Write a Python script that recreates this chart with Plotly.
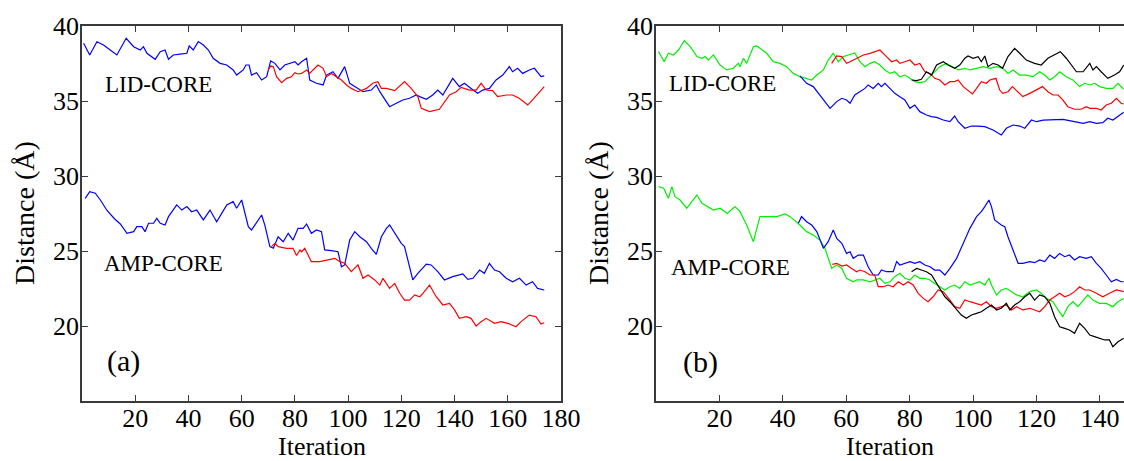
import plotly.graph_objects as go

# ---------------- data ----------------
# Panel (a): LID-CORE
a_lid_blue_x = [0.6, 2.9, 5.6, 8.1, 10.6, 13.1, 16.6, 19.4, 21.9, 23.1, 24.4, 27.5, 29.4, 31.2, 32.5, 34.3, 36.9, 39.4, 40.3, 41.8, 43.7, 45.6, 47.5, 49.3, 51.9, 54.4, 56.8, 58.1, 60.6, 61.6, 62.8, 63.7, 65.6, 67.5, 69.4, 70.3, 70.9, 72.5, 74.4, 76.2, 78.1, 80.0, 81.2, 82.5, 84.4, 85.6, 88.1, 90.6, 91.9, 94.3, 96.2, 98.1, 98.7, 100.6, 102.5, 105.6, 108.7, 110.6, 111.9, 115.6, 118.1, 120.6, 123.1, 125.6, 126.9, 129.4, 131.8, 133.7, 135.6, 137.5, 139.3, 141.8, 143.7, 146.2, 148.7, 150.6, 153.1, 155.6, 158.1, 160.6, 161.8, 163.7, 165.6, 168.1, 170.0, 172.5, 173.7]
a_lid_blue_y = [38.85, 38.07, 38.95, 38.73, 38.4, 38.07, 39.18, 38.62, 38.4, 38.62, 38.18, 37.78, 38.29, 38.4, 37.78, 38.07, 38.13, 38.18, 38.67, 38.4, 38.96, 38.73, 38.4, 37.85, 37.51, 37.4, 37.07, 36.73, 37.07, 37.4, 37.4, 36.73, 36.89, 36.4, 36.62, 37.4, 37.67, 37.51, 37.07, 37.4, 37.51, 37.62, 37.4, 37.62, 37.85, 36.4, 36.18, 36.07, 36.73, 36.95, 36.51, 37.18, 37.29, 36.18, 35.96, 35.62, 35.73, 36.07, 35.62, 34.62, 34.85, 35.07, 35.18, 35.4, 35.29, 35.11, 35.4, 35.73, 35.4, 35.96, 36.51, 35.96, 36.18, 35.84, 35.51, 35.73, 35.84, 36.4, 36.73, 37.29, 36.95, 37.18, 36.84, 37.07, 37.18, 36.62, 36.67]
a_lid_red_x = [70.0, 70.9, 71.9, 73.1, 75.0, 76.9, 78.7, 80.0, 81.2, 82.5, 84.4, 85.6, 86.8, 88.7, 90.6, 91.9, 93.7, 95.6, 97.5, 99.4, 101.2, 103.7, 106.9, 109.3, 111.2, 112.5, 114.4, 117.5, 121.2, 123.7, 126.2, 127.5, 130.6, 134.3, 136.2, 138.1, 140.6, 142.5, 145.6, 148.1, 150.0, 151.9, 154.3, 156.2, 159.4, 161.8, 164.3, 167.5, 169.3, 171.8, 173.7]
a_lid_red_y = [37.07, 37.33, 37.29, 36.62, 36.22, 36.51, 36.62, 36.89, 36.8, 36.84, 37.07, 36.84, 37.07, 37.4, 37.18, 36.62, 36.84, 36.62, 36.4, 36.07, 35.84, 35.62, 35.84, 36.18, 36.29, 35.84, 35.84, 35.69, 36.29, 35.84, 35.29, 34.51, 34.29, 34.45, 34.96, 35.4, 35.62, 35.91, 35.73, 35.73, 36.18, 35.73, 35.69, 35.29, 35.4, 35.4, 35.18, 34.73, 35.07, 35.62, 35.96]
# Panel (a): AMP-CORE
a_amp_blue_x = [1.2, 2.9, 5.0, 6.9, 9.4, 12.2, 14.4, 16.9, 19.4, 20.6, 22.5, 23.7, 25.0, 26.9, 28.1, 29.4, 31.2, 32.5, 35.6, 37.5, 39.4, 41.2, 43.1, 45.6, 48.1, 50.6, 52.5, 54.4, 56.8, 58.1, 60.0, 62.5, 63.7, 67.5, 68.7, 70.6, 71.9, 73.7, 75.6, 77.5, 79.3, 81.2, 83.1, 84.4, 86.2, 88.1, 90.0, 91.2, 93.7, 96.2, 97.5, 98.7, 100.6, 102.5, 104.4, 106.9, 108.7, 110.6, 112.5, 114.4, 115.6, 117.5, 120.0, 121.2, 123.1, 124.3, 126.2, 129.4, 131.2, 133.7, 136.2, 139.3, 143.1, 145.0, 146.9, 149.4, 151.2, 153.1, 155.0, 156.9, 159.4, 161.8, 164.4, 166.9, 169.3, 171.2, 173.7]
a_amp_blue_y = [28.51, 28.96, 28.85, 28.4, 27.7, 27.15, 26.8, 26.18, 26.29, 26.62, 26.62, 26.29, 26.85, 26.85, 27.18, 26.85, 26.73, 27.29, 28.07, 27.73, 27.96, 27.62, 27.73, 27.07, 27.73, 26.95, 27.51, 28.07, 28.29, 27.85, 28.4, 26.62, 26.4, 27.4, 26.73, 25.29, 25.18, 25.95, 25.62, 26.18, 25.73, 26.51, 26.51, 26.8, 26.18, 26.4, 26.29, 25.07, 25.02, 24.95, 23.95, 24.07, 25.73, 26.29, 25.95, 25.62, 25.18, 24.78, 25.95, 26.51, 26.73, 26.18, 25.51, 25.29, 23.95, 23.07, 23.51, 24.13, 24.07, 23.62, 23.07, 23.29, 23.47, 23.11, 23.18, 23.73, 23.51, 24.18, 23.73, 23.62, 23.18, 22.95, 23.18, 22.73, 22.95, 22.51, 22.4]
a_amp_red_x = [71.2, 72.5, 73.7, 76.9, 79.3, 80.6, 81.9, 82.5, 83.7, 86.2, 89.3, 91.9, 95.0, 96.9, 98.7, 101.2, 103.7, 105.6, 107.5, 110.0, 111.9, 113.1, 115.6, 117.5, 119.4, 121.2, 123.1, 125.0, 126.9, 128.1, 130.6, 133.1, 135.6, 138.1, 140.0, 141.8, 144.4, 146.2, 148.1, 150.0, 151.9, 155.0, 157.5, 160.0, 163.1, 165.0, 168.1, 170.6, 172.5, 173.7]
a_amp_red_y = [25.29, 25.51, 25.29, 25.18, 25.18, 24.7, 25.07, 24.95, 25.18, 24.29, 24.29, 24.4, 24.51, 24.29, 24.18, 23.62, 24.07, 23.18, 23.4, 23.07, 22.73, 23.18, 22.51, 22.84, 22.18, 21.73, 21.73, 22.07, 21.95, 22.18, 22.73, 21.95, 21.4, 21.51, 21.07, 20.51, 20.62, 20.51, 20.0, 20.29, 20.51, 20.18, 20.29, 20.18, 19.95, 20.29, 20.73, 20.62, 20.13, 20.22]

# Panel (b): LID-CORE
b_lid_green_x = [0.8, 2.6, 3.9, 5.5, 7.1, 8.9, 10.8, 12.9, 14.5, 15.5, 16.5, 18.1, 20.2, 22.3, 24.4, 26.0, 26.5, 27.6, 28.6, 30.7, 31.8, 33.4, 34.9, 37.0, 39.1, 41.2, 43.3, 45.4, 47.5, 49.1, 50.7, 52.8, 54.3, 55.9, 57.5, 59.1, 60.6, 62.7, 64.3, 65.9, 67.5, 69.0, 70.6, 72.2, 73.8, 75.3, 76.9, 78.5, 80.1, 81.6, 83.2, 84.8, 86.4, 87.9, 89.5, 91.6, 93.7, 95.3, 97.4, 99.0, 101.1, 103.1, 105.3, 107.4, 109.4, 111.0, 112.6, 114.7, 116.8, 118.9, 121.0, 122.6, 124.2, 125.7, 127.3, 129.4, 131.5, 133.6, 135.2, 136.8, 138.3, 139.9, 142.0, 144.1, 145.7, 146.7, 147.5]
b_lid_green_y = [38.29, 37.62, 38.18, 38.07, 38.4, 39.02, 38.62, 37.96, 37.85, 37.96, 37.73, 38.07, 37.4, 37.07, 37.18, 37.51, 37.29, 37.85, 37.51, 38.62, 38.67, 38.4, 38.18, 37.62, 37.51, 37.29, 36.84, 36.62, 36.51, 36.4, 36.73, 37.07, 37.73, 38.18, 37.62, 37.96, 38.07, 38.2, 37.62, 37.29, 37.51, 37.62, 37.4, 37.07, 36.84, 36.95, 36.62, 36.73, 36.51, 36.29, 36.22, 36.29, 36.62, 36.95, 37.29, 37.51, 37.29, 37.07, 37.18, 37.07, 37.18, 37.29, 37.18, 37.29, 37.18, 36.84, 37.07, 36.73, 36.73, 36.62, 36.95, 36.73, 36.4, 36.62, 36.95, 36.62, 36.4, 35.96, 36.18, 36.07, 36.18, 35.96, 35.84, 35.84, 36.18, 35.96, 35.78]
b_lid_blue_x = [45.4, 47.5, 49.6, 51.7, 54.9, 57.0, 58.6, 60.1, 61.2, 62.7, 64.3, 65.9, 66.9, 68.5, 70.1, 71.1, 72.2, 73.8, 75.3, 76.9, 78.5, 80.1, 81.6, 83.2, 85.3, 86.9, 88.5, 90.6, 92.7, 94.2, 95.3, 97.4, 99.5, 101.6, 103.7, 106.3, 108.9, 110.5, 112.6, 114.7, 116.3, 118.4, 120.0, 122.1, 124.2, 126.3, 128.3, 130.4, 132.6, 134.7, 136.8, 138.9, 140.9, 142.5, 144.1, 145.7, 147.5]
b_lid_blue_y = [36.67, 36.18, 35.96, 35.4, 34.51, 34.96, 35.18, 35.07, 34.85, 35.4, 35.62, 35.84, 36.07, 35.84, 36.18, 35.96, 36.18, 35.84, 35.51, 35.29, 35.07, 34.51, 34.73, 34.29, 34.07, 33.96, 33.91, 33.73, 33.62, 34.0, 33.62, 33.18, 33.33, 33.33, 33.29, 33.07, 32.73, 33.18, 33.4, 33.33, 33.18, 33.73, 33.62, 33.73, 33.73, 33.73, 33.78, 33.69, 33.62, 33.51, 33.62, 33.51, 33.56, 33.85, 33.73, 34.0, 34.25]
b_lid_red_x = [55.4, 57.0, 58.6, 60.1, 61.2, 63.3, 65.4, 67.5, 70.6, 72.7, 74.3, 75.9, 76.9, 78.5, 80.1, 81.6, 83.2, 84.8, 86.4, 87.9, 89.5, 91.1, 92.7, 94.2, 95.3, 96.9, 98.4, 99.8, 101.1, 102.6, 104.2, 105.3, 107.2, 108.4, 109.4, 111.0, 112.4, 114.2, 115.7, 117.9, 120.0, 121.9, 123.6, 125.2, 126.8, 128.3, 129.9, 132.0, 134.1, 135.7, 136.8, 138.9, 140.4, 142.0, 143.6, 145.2, 146.7, 147.5]
b_lid_red_y = [37.51, 38.0, 37.96, 37.51, 37.62, 37.85, 38.07, 38.18, 38.4, 37.96, 37.62, 37.73, 37.51, 37.62, 37.73, 37.4, 37.51, 36.95, 36.84, 36.51, 36.4, 36.07, 36.29, 36.29, 36.4, 35.96, 35.73, 35.47, 35.84, 36.29, 36.18, 36.4, 36.51, 35.73, 35.51, 35.62, 35.96, 35.62, 35.29, 35.51, 35.73, 35.96, 35.62, 35.4, 35.4, 35.07, 34.62, 34.45, 34.45, 34.62, 34.51, 34.51, 34.4, 34.73, 34.85, 35.18, 34.85, 34.8]
b_lid_black_x = [80.6, 82.2, 83.7, 85.3, 86.9, 88.5, 90.6, 92.1, 94.2, 95.8, 97.4, 98.4, 100.0, 101.6, 102.6, 103.7, 104.7, 106.3, 107.9, 109.3, 111.0, 113.1, 114.7, 116.8, 119.4, 121.5, 123.6, 125.7, 127.5, 129.4, 131.0, 132.6, 134.7, 136.8, 137.8, 138.9, 140.4, 142.5, 144.6, 146.2, 147.5]
b_lid_black_y = [36.4, 36.36, 36.45, 36.95, 36.73, 37.4, 37.62, 37.4, 37.18, 37.4, 37.85, 38.0, 37.85, 37.96, 37.62, 38.0, 37.29, 37.51, 37.4, 37.18, 37.96, 38.51, 38.18, 37.73, 37.51, 37.4, 37.85, 38.07, 38.29, 37.85, 37.4, 36.95, 36.95, 37.51, 37.07, 37.29, 36.95, 36.51, 36.73, 36.95, 37.4]
# Panel (b): AMP-CORE
b_amp_green_x = [0.8, 2.4, 3.9, 5.0, 6.0, 7.6, 9.7, 11.3, 12.9, 14.5, 16.5, 18.1, 20.2, 22.5, 24.9, 26.5, 28.6, 30.7, 32.8, 34.9, 38.1, 40.7, 42.3, 45.4, 47.5, 49.6, 51.7, 53.3, 55.4, 57.0, 58.6, 60.1, 62.2, 63.3, 65.4, 67.5, 69.0, 70.6, 72.2, 73.8, 75.3, 76.9, 78.5, 80.1, 81.6, 83.2, 84.8, 86.4, 87.9, 89.5, 91.1, 92.7, 94.2, 95.8, 97.4, 99.0, 100.5, 102.1, 103.7, 105.0, 105.8, 107.4, 108.9, 110.5, 112.1, 113.7, 115.7, 117.9, 120.0, 121.5, 123.1, 125.2, 126.8, 128.3, 129.9, 131.5, 133.1, 134.7, 136.2, 137.8, 139.9, 142.0, 144.1, 145.7, 147.5]
b_amp_green_y = [29.29, 29.18, 28.51, 29.29, 28.62, 28.4, 27.85, 28.29, 28.73, 28.18, 27.96, 27.73, 27.85, 27.5, 27.96, 27.62, 26.73, 25.62, 27.29, 27.29, 27.29, 27.47, 27.29, 26.73, 26.29, 26.07, 25.73, 25.18, 23.84, 24.07, 23.84, 23.18, 22.95, 23.07, 23.07, 22.95, 23.07, 23.18, 22.84, 22.95, 23.29, 23.51, 23.18, 23.07, 23.4, 23.18, 23.18, 23.07, 22.84, 22.62, 22.4, 22.62, 22.73, 22.51, 22.95, 22.73, 22.84, 22.95, 22.73, 23.18, 22.73, 22.07, 22.4, 22.51, 22.29, 22.07, 21.95, 22.29, 22.4, 22.18, 21.84, 21.62, 21.07, 20.62, 21.29, 21.62, 21.29, 21.73, 22.07, 21.73, 21.51, 21.51, 21.29, 21.62, 21.84]
b_amp_blue_x = [44.9, 45.9, 47.5, 49.1, 50.7, 52.8, 54.3, 55.9, 57.0, 58.6, 60.1, 61.2, 62.2, 63.8, 65.4, 66.9, 68.5, 70.1, 71.1, 72.7, 74.8, 75.9, 76.9, 78.5, 80.1, 81.6, 83.2, 84.8, 86.4, 87.9, 89.5, 91.1, 92.7, 94.8, 96.9, 99.0, 101.1, 102.6, 103.7, 105.0, 105.8, 106.8, 108.9, 110.0, 111.0, 112.6, 114.2, 115.7, 117.9, 119.4, 121.0, 122.6, 124.2, 125.7, 127.3, 128.9, 130.4, 132.0, 133.6, 135.7, 137.3, 138.9, 140.4, 142.0, 143.6, 145.2, 146.7, 147.5]
b_amp_blue_y = [26.85, 27.29, 26.95, 26.73, 26.29, 25.18, 25.62, 26.4, 25.84, 25.51, 24.84, 24.95, 24.51, 24.73, 24.73, 23.95, 23.4, 23.4, 23.73, 23.62, 23.62, 24.29, 24.07, 24.18, 24.29, 24.18, 24.29, 24.07, 23.95, 23.73, 23.73, 23.4, 23.84, 24.51, 25.51, 26.51, 27.29, 27.62, 27.96, 28.4, 27.96, 27.07, 26.73, 26.62, 25.95, 25.07, 24.18, 24.18, 24.29, 24.22, 24.4, 24.29, 24.73, 24.51, 24.84, 24.62, 24.73, 24.4, 24.62, 24.51, 24.62, 24.18, 23.84, 23.4, 22.95, 23.11, 22.95, 22.95]
b_amp_red_x = [55.6, 57.0, 58.6, 60.1, 61.7, 63.3, 64.3, 65.9, 67.5, 69.0, 70.1, 71.7, 73.2, 74.8, 76.4, 78.0, 79.5, 81.1, 82.7, 84.3, 85.8, 87.4, 89.0, 90.6, 92.7, 94.2, 95.8, 97.4, 99.0, 101.1, 102.6, 104.2, 105.8, 107.4, 108.9, 110.5, 112.1, 113.7, 115.7, 117.9, 119.4, 121.0, 122.6, 124.2, 125.7, 127.3, 128.9, 130.4, 132.0, 133.6, 135.2, 136.8, 138.9, 140.9, 143.0, 145.2, 147.5]
b_amp_red_y = [24.11, 24.18, 24.0, 24.07, 23.84, 23.62, 23.73, 23.62, 23.4, 23.4, 22.62, 22.62, 22.73, 22.62, 22.95, 22.73, 22.95, 22.73, 22.18, 21.84, 21.62, 21.95, 22.4, 22.29, 21.73, 21.29, 21.18, 21.73, 21.62, 21.51, 21.4, 21.62, 21.29, 21.18, 21.29, 21.4, 21.07, 21.29, 21.07, 21.18, 21.07, 20.95, 21.29, 21.73, 21.95, 22.18, 21.95, 22.07, 22.29, 22.62, 22.4, 22.4, 22.18, 21.95, 22.18, 22.4, 22.29]
b_amp_black_x = [80.6, 82.2, 83.7, 85.3, 86.9, 87.9, 89.0, 90.0, 91.1, 92.7, 94.8, 96.3, 97.9, 99.5, 101.1, 102.6, 104.2, 105.8, 107.4, 108.9, 110.5, 111.6, 113.1, 114.7, 116.3, 117.9, 119.4, 121.0, 122.6, 124.2, 125.7, 127.3, 128.9, 130.4, 132.0, 133.6, 135.2, 136.8, 138.3, 139.9, 141.5, 143.0, 144.1, 145.7, 147.5]
b_amp_black_y = [23.62, 23.84, 23.73, 23.62, 23.4, 23.07, 22.62, 22.29, 21.95, 21.62, 21.07, 20.73, 20.51, 20.73, 20.84, 20.95, 21.18, 21.4, 21.07, 21.18, 21.51, 21.07, 21.4, 21.62, 21.95, 22.18, 21.73, 22.07, 21.95, 21.51, 20.62, 19.95, 19.84, 19.73, 19.51, 20.18, 19.84, 19.4, 19.29, 19.18, 19.07, 19.07, 18.62, 18.95, 19.18]

y_ticks = [20, 25, 30, 35, 40]
a_x_ticks = [20, 40, 60, 80, 100, 120, 140, 160, 180]
b_x_ticks = [20, 40, 60, 80, 100, 120, 140]

# ---------------- figure ----------------
W, H = 1124, 461
BLUE, RED, GREEN, BLACK = "#0000ff", "#ff0000", "#00f000", "#000000"
LW = 1.2

fig = go.Figure()

def add(x, y, color, axis):
    xa, ya = ("x", "y") if axis == 1 else ("x2", "y2")
    fig.add_trace(go.Scatter(x=x, y=y, mode="lines", xaxis=xa, yaxis=ya,
                             line=dict(color=color, width=LW), showlegend=False,
                             hoverinfo="skip"))

add(a_lid_blue_x, a_lid_blue_y, BLUE, 1)
add(a_lid_red_x, a_lid_red_y, RED, 1)
add(a_amp_blue_x, a_amp_blue_y, BLUE, 1)
add(a_amp_red_x, a_amp_red_y, RED, 1)

add(b_lid_green_x, b_lid_green_y, GREEN, 2)
add(b_lid_blue_x, b_lid_blue_y, BLUE, 2)
add(b_lid_red_x, b_lid_red_y, RED, 2)
add(b_lid_black_x, b_lid_black_y, BLACK, 2)
add(b_amp_green_x, b_amp_green_y, GREEN, 2)
add(b_amp_blue_x, b_amp_blue_y, BLUE, 2)
add(b_amp_red_x, b_amp_red_y, RED, 2)
add(b_amp_black_x, b_amp_black_y, BLACK, 2)

FONT = "Liberation Serif, Times New Roman, serif"
AXC = "#3a3a3a"

def px_x(p):
    return p / W

def px_y(p):
    return 1 - p / H

common = dict(showline=True, linecolor=AXC, linewidth=1.5, mirror="ticks",
              ticks="inside", ticklen=6, tickwidth=1.2, tickcolor=AXC,
              showgrid=False, zeroline=False, automargin=False)
xcommon = dict(common, tickfont=dict(family=FONT, size=26, color="black"),
               ticklabelstandoff=-7)
ycommon = dict(common, tickfont=dict(family=FONT, size=26, color="black"),
               ticklabelstandoff=-4)
y2common = dict(ycommon, mirror=False)

fig.update_layout(
    template="none",
    width=W, height=H,
    margin=dict(l=0, r=0, t=0, b=0, autoexpand=False),
    paper_bgcolor="white", plot_bgcolor="white",
    font=dict(family=FONT),
    xaxis=dict(domain=[px_x(82), px_x(561)], range=[0, 180], tickvals=a_x_ticks,
               anchor="y", **xcommon),
    yaxis=dict(domain=[px_y(401), px_y(26)], range=[15, 40], tickvals=y_ticks,
               anchor="x", **ycommon),
    xaxis2=dict(domain=[px_x(656), 1.0], range=[0, 147.6], tickvals=b_x_ticks,
                anchor="y2", **xcommon),
    yaxis2=dict(domain=[px_y(401), px_y(26)], range=[15, 40], tickvals=y_ticks,
                anchor="x2", **y2common),
)

ann = []
def label(text, xref, yref, x, y, size):
    ann.append(dict(text=text, xref=xref, yref=yref, x=x, y=y, xanchor="left",
                    yanchor="middle", showarrow=False,
                    font=dict(family=FONT, size=size, color="black")))

label("LID-CORE", "x", "y", 8.0, 36.1, 23)
label("AMP-CORE", "x", "y", 7.6, 24.2, 23)
label("(a)", "x", "y", 8.7, 17.67, 30)
label("LID-CORE", "x2", "y2", 3.4, 36.2, 23)
label("AMP-CORE", "x2", "y2", 4.1, 23.87, 23)
label("(b)", "x2", "y2", 7.8, 17.6, 30)

for cx in (px_x(321.5), px_x(890)):
    ann.append(dict(text="Iteration", xref="paper", yref="paper", x=cx, y=px_y(446.5),
                    xanchor="center", yanchor="middle", showarrow=False,
                    font=dict(family=FONT, size=26, color="black")))
for cx in (px_x(24), px_x(598)):
    ann.append(dict(text="Distance (Å)", xref="paper", yref="paper", x=cx, y=px_y(213),
                    xanchor="center", yanchor="middle", showarrow=False, textangle=-90,
                    font=dict(family=FONT, size=28, color="black")))

fig.update_layout(annotations=ann)
fig.write_html("out.html")
